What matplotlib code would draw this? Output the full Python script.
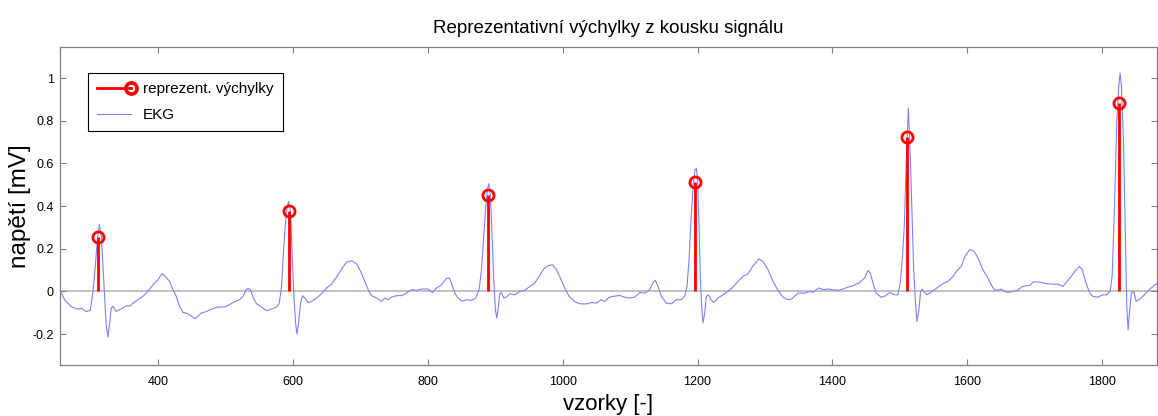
#!/usr/bin/env python
# -*- coding:utf-8 -*-

import matplotlib
matplotlib.use('Agg')
import matplotlib.pyplot as plt
from matplotlib.lines import Line2D
from matplotlib.legend_handler import HandlerLine2D

# EKG signal (sample index, voltage in mV)
ekg_x = [255, 261.9, 271.8, 281.7, 286.6, 294, 299.9, 303.9, 307.3, 310.3,
         313.3, 316.2, 318.7, 321.2, 323.6, 326.1, 328.6, 331, 333.5, 338.5,
         343.4, 348.3, 353.3, 358.2, 363.1, 370.6, 378, 385.4, 392.8, 400.2,
         406.1, 410.1, 417.5, 422.4, 427.3, 432.3, 437.2, 444.6, 449.6, 455.5,
         459.4, 464.4, 471.8, 479.2, 489.1, 498.9, 506.4, 513.8, 521.2,
         526.6, 530.6, 534.0, 537.5, 541.5, 546.4, 553.8, 561.2, 568.6, 576,
         580, 583.4, 585.9, 588.9, 591.8, 593.8, 596.8, 599.2, 601.7, 604.2,
         606.1, 608.6, 611.6, 614.5, 618, 622.9, 627.9, 635.3, 642.7, 650.1,
         657.5, 664.9, 672.3, 679.7, 687.1, 694.5, 700.5, 706.9, 711.8, 716.8,
         724.2, 731.6, 736.5, 741.5, 746.4, 753.8, 761.2, 768.6, 776, 783.4,
         790.8, 795.7, 800.6, 807.1, 813, 820.4, 827.8, 831.8, 835.2, 840.2,
         845.1, 851.5, 857.4, 864.8, 871.3, 876.2, 879.7, 883.1, 886.1, 888.5,
         890.5, 893, 895.5, 897.9, 900.4, 902.4, 904.3, 906.8, 909.3, 912.7,
         916.7, 921.6, 929, 936.4, 943.9, 951.3, 958.7, 965.1, 972, 978.4,
         984.8, 990.8, 996.7, 1003.1, 1009.5, 1017.9, 1025.3, 1035.2, 1042.6, 1050,
         1057.4, 1062.4, 1068.8, 1074.8, 1084.6, 1092, 1099.4, 1106.9, 1114.3, 1121.7,
         1129.1, 1134, 1137.5, 1141.4, 1146.4, 1153.8, 1161.2, 1168.6, 1176, 1180.9,
         1184.4, 1187.3, 1190.3, 1193.3, 1196.2, 1198.2, 1200.2, 1202.2, 1204.1, 1206.1,
         1208.1, 1210.6, 1213, 1216, 1219.4, 1223.9, 1230.3, 1237.7, 1245.1, 1252.5,
         1260, 1267.3, 1274.8, 1282.2, 1291, 1297, 1304.4, 1311.8, 1319.2, 1326.6,
         1334, 1339, 1343.9, 1348.9, 1358.7, 1366.1, 1371.1, 1376, 1380, 1385.9,
         1393.3, 1400.7, 1408.1, 1415.5, 1422.9, 1430.3, 1440.2, 1447.6, 1452.6, 1456,
         1460, 1464.9, 1472.3, 1478.7, 1484.7, 1492.1, 1497, 1500.5, 1503.4, 1506.4,
         1509.5, 1512.5, 1515.5, 1518, 1520.2, 1522.7, 1525.2, 1528.1, 1530.6, 1533.1,
         1536.5, 1540, 1543.9, 1549.9, 1556.3, 1563.7, 1571.1, 1578.5, 1585.9, 1590.8,
         1595.7, 1603.1, 1608.1, 1613, 1617.9, 1622.9, 1630.3, 1635.2, 1640.2, 1645.1,
         1650, 1655, 1659.9, 1667.3, 1674.7, 1679.7, 1686.1, 1692, 1697.9, 1706.8,
         1716.7, 1726.6, 1734, 1741.4, 1746.3, 1753.7, 1760.2, 1766.1, 1770.1, 1775,
         1780.9, 1785.8, 1793.3, 1800.7, 1806.6, 1811.5, 1814.5, 1817.5, 1821.4, 1824.3,
         1826.3, 1828.3, 1831.3, 1834.2, 1836.2, 1838.2, 1840.1, 1843, 1846.6, 1850,
         1857.4, 1864.8, 1872.2, 1881.6]
ekg_y = [0.005, -0.039, -0.073, -0.083, -0.078, -0.094, -0.089, 0.0, 0.117, 0.242,
         0.313, 0.258, 0.117, -0.023, -0.164, -0.214, -0.148, -0.078, -0.070, -0.094,
         -0.086, -0.078, -0.067, -0.070, -0.055, -0.039, -0.023, 0.0, 0.031, 0.055,
         0.083, 0.073, 0.047, 0.008, -0.023, -0.070, -0.098, -0.105, -0.117, -0.128,
         -0.117, -0.101, -0.095, -0.083, -0.073, -0.073, -0.062, -0.048, -0.039,
         -0.023, 0.008, 0.014, 0.008, -0.031, -0.058, -0.073, -0.091, -0.083, -0.073,
         -0.055, 0.023, 0.164, 0.305, 0.398, 0.421, 0.367, 0.164, -0.023, -0.148,
         -0.200, -0.148, -0.055, -0.020, -0.031, -0.052, -0.047, -0.031, -0.011, 0.016,
         0.034, 0.067, 0.105, 0.137, 0.144, 0.130, 0.094, 0.047, 0.008, -0.020,
         -0.031, -0.047, -0.031, -0.039, -0.027, -0.020, -0.020, -0.008, 0.008, 0.005,
         0.011, 0.011, 0.011, -0.005, 0.016, 0.031, 0.061, 0.063, 0.039, -0.008,
         -0.031, -0.047, -0.039, -0.042, -0.031, 0.008, 0.101, 0.258, 0.398, 0.477,
         0.505, 0.445, 0.258, 0.055, -0.086, -0.125, -0.086, -0.011, -0.005, -0.031,
         -0.027, -0.011, -0.016, 0.0, 0.005, 0.023, 0.039, 0.070, 0.105, 0.120,
         0.125, 0.102, 0.063, 0.016, -0.023, -0.047, -0.058, -0.059, -0.052, -0.055,
         -0.039, -0.047, -0.028, -0.023, -0.019, -0.027, -0.031, -0.027, -0.005, -0.008,
         0.008, 0.042, 0.052, 0.023, -0.023, -0.055, -0.058, -0.039, -0.039, -0.023,
         0.023, 0.148, 0.336, 0.492, 0.570, 0.578, 0.523, 0.305, 0.070, -0.070,
         -0.148, -0.102, -0.023, -0.016, -0.036, -0.052, -0.031, -0.016, 0.0, 0.020,
         0.047, 0.070, 0.083, 0.120, 0.152, 0.141, 0.102, 0.047, 0.005, -0.027,
         -0.039, -0.036, -0.023, -0.008, -0.008, 0.0, -0.005, 0.008, 0.016, 0.008,
         0.011, 0.008, 0.005, 0.011, 0.020, 0.027, 0.042, 0.063, 0.098, 0.086,
         0.039, -0.008, -0.028, -0.020, -0.005, -0.016, -0.016, 0.039, 0.148, 0.305,
         0.62, 0.86, 0.62, 0.35, 0.117, -0.039, -0.141, -0.086, 0.0, 0.011,
         -0.005, -0.016, -0.008, 0.005, 0.020, 0.036, 0.047, 0.070, 0.102, 0.117,
         0.160, 0.195, 0.192, 0.172, 0.141, 0.102, 0.063, 0.031, 0.008, 0.005,
         0.011, 0.0, -0.005, 0.0, 0.005, 0.020, 0.027, 0.027, 0.045, 0.044,
         0.036, 0.034, 0.034, 0.023, 0.042, 0.070, 0.098, 0.117, 0.102, 0.047,
         -0.005, -0.023, -0.027, -0.016, -0.016, 0.0, 0.07, 0.35, 0.789, 0.961,
         1.023, 0.961, 0.711, 0.242, -0.070, -0.180, -0.102, -0.008, 0.0, -0.047,
         -0.031, -0.008, 0.016, 0.039]

# representative deflections (stems)
peak_x = [311.8, 593.8, 890.0, 1195.7, 1511.0, 1824.3]
peak_y = [0.253, 0.375, 0.452, 0.511, 0.724, 0.883]

x_ticks = [400, 600, 800, 1000, 1200, 1400, 1600, 1800]
y_ticks = [-0.2, 0, 0.2, 0.4, 0.6, 0.8, 1]
y_tick_labels = ['-0.2', '0', '0.2', '0.4', '0.6', '0.8', '1']


class StemHandler(HandlerLine2D):
    # marker at the right end of the legend line, like matlab does
    def create_artists(self, legend, orig_handle, xdescent, ydescent,
                       width, height, fontsize, trans):
        arts = super().create_artists(legend, orig_handle, xdescent, ydescent,
                                      width, height, fontsize, trans)
        line = arts[0]
        line.set_markevery([len(line.get_xdata()) - 1])
        return arts


if __name__ == '__main__':
    plt.rcParams['font.family'] = ['Liberation Sans', 'DejaVu Sans']
    plt.rcParams['axes.unicode_minus'] = False

    fig = plt.figure(figsize=(11.58, 4.16), dpi=100)
    ax = fig.add_axes([60 / 1158, 51 / 416, 1097 / 1158, 318.5 / 416])

    ax.axhline(0, color='#b8b8b8', lw=1.2, zorder=1)
    ekg_line, = ax.plot(ekg_x, ekg_y, color='#8080ff', lw=0.8, zorder=2)
    ax.vlines(peak_x, 0, peak_y, colors='red', lw=2.0, zorder=3)
    ax.plot(peak_x, peak_y, 'o', mfc='none', mec='red', ms=8, mew=2.0, zorder=4)

    ax.set_xlim(255, 1881)
    ax.set_ylim(-0.345, 1.148)
    ax.set_xticks(x_ticks)
    ax.set_yticks(y_ticks)
    ax.set_yticklabels(y_tick_labels)

    for s in ax.spines.values():
        s.set_color('#808080')
        s.set_linewidth(0.9)
    ax.tick_params(direction='in', length=4, width=0.8, color='#808080',
                   top=True, right=True, labelsize=9)
    ax.tick_params(axis='x', pad=8)
    ax.tick_params(axis='y', pad=4.5)

    ax.set_title('Reprezentativní výchylky z kousku signálu', fontsize=13.5, pad=10)
    ax.set_xlabel('vzorky [-]', fontsize=16)
    ax.set_ylabel('napětí [mV]', fontsize=17.5)
    ax.xaxis.set_label_coords(0.5, -0.09)
    ax.yaxis.set_label_coords(-0.026, 0.5)

    stem_proxy = Line2D([], [], color='red', lw=2.0, marker='o', ms=8,
                        mfc='none', mec='red', mew=2.6)
    leg = ax.legend([stem_proxy, ekg_line], ['reprezent. výchylky', 'EKG'],
                    loc='upper left', bbox_to_anchor=(0.0255, 0.917),
                    borderaxespad=0, fontsize=11, fancybox=False,
                    framealpha=1, edgecolor='black', numpoints=1,
                    handlelength=2.2, handletextpad=0.8, labelspacing=0.8,
                    borderpad=0.6, handler_map={Line2D: StemHandler()})
    leg.get_frame().set_linewidth(0.8)

    plt.savefig('out.png', dpi=100)
